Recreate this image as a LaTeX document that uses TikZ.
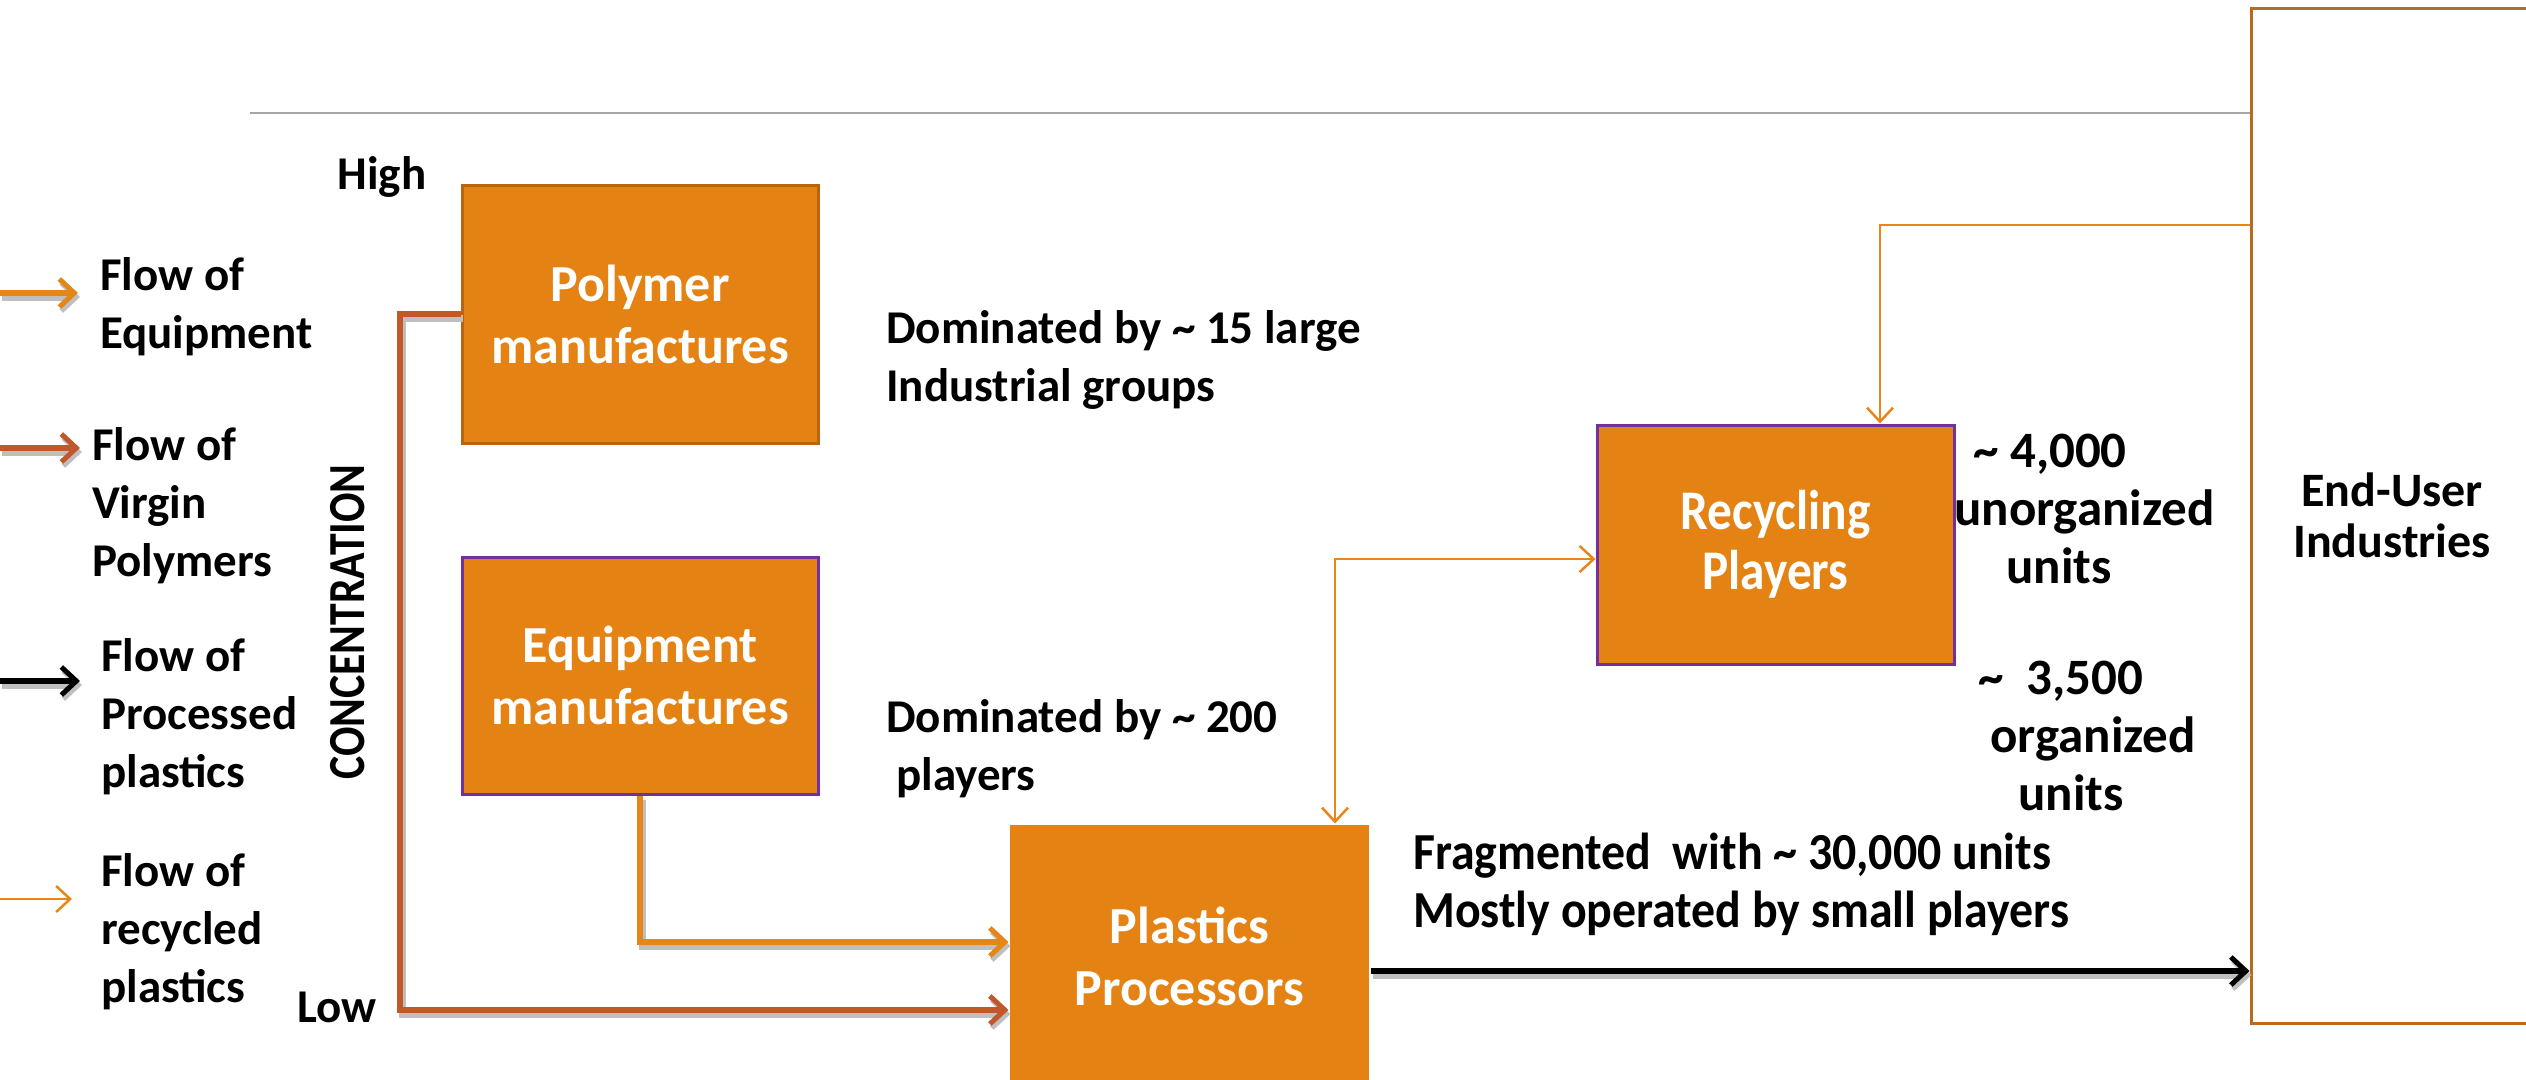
\documentclass[tikz,border=0pt]{standalone}
\usepackage{fontspec}
\setmainfont{Carlito}
\usetikzlibrary{arrows.meta}
\definecolor{boxorange}{HTML}{E48213}
\definecolor{polyborder}{HTML}{B8650F}
\definecolor{purpleb}{HTML}{7030A0}
\definecolor{virgin}{HTML}{C0582C}
\definecolor{equipc}{HTML}{E48618}
\definecolor{recycc}{HTML}{E8861A}
\definecolor{greyline}{HTML}{A6A6A6}
\definecolor{endborder}{HTML}{B86A1E}
\tikzset{
  box/.style={rectangle, fill=boxorange, text=white, font=\bfseries\fontsize{52}{62}\selectfont, align=center, inner sep=0pt, line width=3pt},
  txt/.style={font=\bfseries\fontsize{47}{58}\selectfont, align=left, inner sep=0pt, anchor=west, text=black},
  bigtxt/.style={txt, font=\bfseries\fontsize{51}{58}\selectfont},
  barb/.style={-{Straight Barb[length=15pt,width=28pt,line width=5pt]}},
  thinbarb/.style={-{Straight Barb[length=14pt,width=26pt,line width=2.5pt]}},
  shadowed/.style={preaction={draw=black!25, line width=7pt, transform canvas={shift={(2pt,-4pt)}}}},
  virginflow/.style={draw=virgin, line width=5.5pt, barb, shadowed},
  equipflow/.style={draw=equipc, line width=5.5pt, barb, shadowed},
  procflow/.style={draw=black, line width=5.5pt, barb, shadowed},
  recflow/.style={draw=recycc, line width=2.5pt, thinbarb},
}
\begin{document}
\begin{tikzpicture}[x=1pt,y=-1pt]
\useasboundingbox[fill=white] (0,0) rectangle (2526,1079);

% grey rule
\coordinate (gl) at (250,113);
\coordinate (gr) at (2251,113);
\draw[greyline, line width=2pt] (gl) -- (gr);

% boxes
\node[box, draw=polyborder, minimum width=356pt, minimum height=258pt] (poly) at (640,314) {Polymer\\manufactures};
\node[box, draw=purpleb, minimum width=356pt, minimum height=237pt] (equip) at (640,675.5) {Equipment\\manufactures};
\node[box, minimum width=359pt, minimum height=262pt] (proc) at (1189.5,956) {Plastics\\Processors};
\node[box, draw=purpleb, minimum width=357pt, minimum height=239pt, font=\bfseries\fontsize{56}{60}\selectfont] (recyc) at (1775.5,544.5) {\scalebox{0.88}[1]{Recycling}\\\scalebox{0.88}[1]{Players}};
\node[rectangle, draw=endborder, line width=3pt, minimum width=282pt, minimum height=1015pt, inner sep=0pt,
      font=\bfseries\fontsize{48}{51}\selectfont, align=center] (enduser) at (2392,515.5) {End-User\\Industries};

% legend
\coordinate (l1) at (0,293);  \coordinate (l1e) at (78,293);
\coordinate (l2) at (0,448);  \coordinate (l2e) at (80,448);
\coordinate (l3) at (0,681);  \coordinate (l3e) at (80,681);
\coordinate (l4) at (0,899);  \coordinate (l4e) at (72,899);
\draw[equipflow] (l1) -- (l1e);
\draw[virginflow] (l2) -- (l2e);
\draw[procflow] (l3) -- (l3e);
\draw[recflow] (l4) -- (l4e);
\node[txt] (t1) at (100,307) {Flow of\\Equipment};
\node[txt] (t2) at (92,506) {Flow of\\Virgin\\Polymers};
\node[txt] (t3) at (101,717) {Flow of\\Processed\\plastics};
\node[txt] (t4) at (101,932) {Flow of\\recycled\\plastics};

% axis labels
\node[txt, anchor=center] (high) at (382,177) {High};
\node[txt, anchor=center] (low) at (337,1007) {Low};
\node[txt, anchor=center, rotate=90, font=\bfseries\fontsize{52}{58}\selectfont] (conc) at (348,622) {\scalebox{0.84}[1]{CONCENTRATION}};

% descriptions
\node[txt] (d1) at (886,360) {Dominated by \textasciitilde{} 15 large\\Industrial groups};
\node[txt] (d2) at (886,749) {Dominated by \textasciitilde{} 200\\\hspace*{10pt}players};
\node[txt, font=\bfseries\fontsize{52}{58}\selectfont] (d3) at (1413,884) {\scalebox{0.92}[1]{Fragmented\ \ with \textasciitilde{} 30,000 units}\\\scalebox{0.92}[1]{Mostly operated by small players}};
\node[bigtxt] (d4) at (1954,509) {\hspace*{19pt}\textasciitilde{} 4,000\\unorganized\\\hspace*{52pt}units};
\node[bigtxt] (d5) at (1978,736) {\textasciitilde{}\ \ 3,500\\\hspace*{12pt}organized\\\hspace*{40pt}units};

% connectors
\coordinate (vc1) at (400,314);
\coordinate (vc2) at (400,1010);
\draw[virginflow] (poly.west) -- (vc1) -- (vc2) -- (vc2 -| proc.west);
\coordinate (ec) at (equip.south |- 0,942);
\draw[equipflow] (equip.south) -- (ec) -- (ec -| proc.west);
\coordinate (pc) at (0,971);
\draw[procflow] (pc -| proc.east) -- (pc -| enduser.west);
\coordinate (rc) at (1335,559);
\draw[recflow, {Straight Barb[length=14pt,width=26pt,line width=2.5pt]}-{Straight Barb[length=14pt,width=26pt,line width=2.5pt]}] (rc -| recyc.west) -- (rc) -- (rc |- proc.north);
\coordinate (tc) at (1880,225);
\draw[recflow] (tc -| enduser.west) -- (tc) -- (tc |- recyc.north);
\end{tikzpicture}
\end{document}
